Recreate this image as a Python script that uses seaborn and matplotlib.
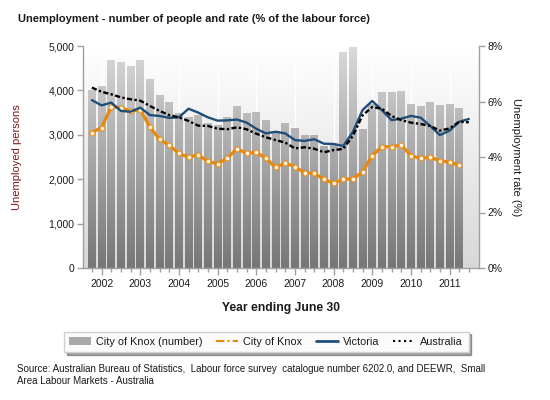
import numpy as np
import pandas as pd
import matplotlib
matplotlib.use("Agg")
import matplotlib.pyplot as plt
import seaborn as sns
from matplotlib.lines import Line2D
from matplotlib.patches import Patch
from matplotlib.colors import LinearSegmentedColormap
from matplotlib.ticker import FuncFormatter, FixedLocator

sns.set_theme(style="ticks")
plt.rcParams['font.family'] = ['Liberation Sans', 'DejaVu Sans']

# ---------------- data ----------------
year_labels = ['2002', '2003', '2004', '2005', '2006', '2007', '2008', '2009', '2010', '2011']

knox_number = [4000, 4100, 4690, 4640, 4555, 4690, 4260, 3900, 3740, 3500,
               3390, 3450, 3265, 3220, 3400, 3650, 3500, 3515, 3335, 3075,
               3270, 3160, 3000, 3000, 2750, 2770, 4860, 4970, 3130, 3700,
               3955, 3955, 3995, 3700, 3655, 3745, 3680, 3700, 3610]

knox_rate = [4.88, 5.06, 5.81, 5.78, 5.65, 5.71, 5.08, 4.64, 4.42, 4.13,
             3.99, 4.08, 3.84, 3.76, 3.96, 4.30, 4.13, 4.17, 3.95, 3.63,
             3.78, 3.65, 3.43, 3.41, 3.20, 3.05, 3.20, 3.21, 3.46, 4.05,
             4.37, 4.37, 4.43, 4.05, 3.95, 3.99, 3.86, 3.82, 3.70]

victoria_rate = [6.05, 5.86, 5.96, 5.66, 5.63, 5.78, 5.51, 5.48, 5.41, 5.43,
                 5.74, 5.60, 5.43, 5.31, 5.32, 5.35, 5.24, 5.02, 4.85, 4.91,
                 4.85, 4.61, 4.58, 4.64, 4.48, 4.47, 4.40, 4.90, 5.69, 6.02,
                 5.69, 5.33, 5.38, 5.48, 5.42, 5.12, 4.79, 4.95, 5.27, 5.37]

australia_rate = [6.50, 6.35, 6.26, 6.15, 6.08, 6.03, 5.84, 5.66, 5.51, 5.43,
                  5.30, 5.13, 5.12, 5.02, 5.00, 5.07, 5.00, 4.84, 4.71, 4.61,
                  4.52, 4.31, 4.35, 4.30, 4.17, 4.25, 4.29, 4.76, 5.50, 5.80,
                  5.74, 5.48, 5.33, 5.24, 5.19, 5.12, 4.95, 5.03, 5.27, 5.25]

bars_df = pd.DataFrame({'q': np.arange(len(knox_number)), 'n': knox_number})
knox_df = pd.DataFrame({'q': np.arange(len(knox_rate)), 'r': knox_rate})
vic_df = pd.DataFrame({'q': np.arange(len(victoria_rate)), 'r': victoria_rate})
aus_df = pd.DataFrame({'q': np.arange(len(australia_rate)), 'r': australia_rate})

ORANGE = '#E8890C'
NAVY = '#1F4E79'
SPINE = '#a0a0a0'
TXT = '#1a1a1a'

fig = plt.figure(figsize=(5.5, 4), dpi=100)
fig.patch.set_facecolor('white')
ax = fig.add_axes([0.1504, 0.33, 0.7205, 0.555])

# background gradient
bg_cmap = LinearSegmentedColormap.from_list('bg', ['#ffffff', '#d8d8d8'])
grad = np.linspace(0, 1, 256).reshape(-1, 1)
ax.imshow(grad, cmap=bg_cmap, extent=[0, 1, 0, 1], transform=ax.transAxes,
          aspect='auto', zorder=0)

# bars
sns.barplot(data=bars_df, x='q', y='n', native_scale=True, color='#a0a0a0',
            width=0.8, ax=ax, zorder=2, linewidth=0)
bar_cmap = LinearSegmentedColormap.from_list('bar', ['#dadada', '#767676'])
for p in list(ax.patches):
    x0 = p.get_x()
    x1 = x0 + p.get_width()
    im = ax.imshow(grad, cmap=bar_cmap, extent=[x0, x1, 0, 5000],
                   aspect='auto', zorder=2.5)
    im.set_clip_path(p)

ax.set_xlim(-0.95, 40.05)
ax.set_ylim(0, 5000)

# white vertical gridlines at years
major_pos = [1 + 4 * k for k in range(len(year_labels))]
for xp in major_pos:
    ax.axvline(xp, color='white', lw=1.0, zorder=1)

ax.xaxis.set_major_locator(FixedLocator(major_pos))
ax.set_xticklabels(year_labels)
ax.xaxis.set_minor_locator(FixedLocator(list(range(0, 40))))
ax.tick_params(axis='x', which='major', length=5, color=SPINE, width=1,
               labelsize=7.5, labelcolor=TXT, pad=3)
ax.tick_params(axis='x', which='minor', length=3, color=SPINE, width=1)
ax.set_yticks([0, 1000, 2000, 3000, 4000, 5000])
ax.yaxis.set_major_formatter(FuncFormatter(lambda v, _: f"{int(v):,}"))
ax.tick_params(axis='y', length=4, color=SPINE, width=1, labelsize=7.5,
               labelcolor=TXT, pad=2)
for s in ['top', 'right']:
    ax.spines[s].set_visible(False)
for s in ['left', 'bottom']:
    ax.spines[s].set_color(SPINE)
    ax.spines[s].set_linewidth(1)
ax.set_xlabel('Year ending June 30', fontsize=8.7, fontweight='bold', color=TXT)
ax.xaxis.set_label_coords(0.5, -0.152)
ax.set_ylabel('Unemployed persons', fontsize=8, color='#7a1a1a')
ax.yaxis.set_label_coords(-0.153, 0.5)

# twin axis for rates
ax2 = ax.twinx()
sns.lineplot(data=knox_df, x='q', y='r', ax=ax2, color=ORANGE, lw=2.3,
             marker='o', markersize=3.6, markerfacecolor='#fff3e0',
             markeredgecolor=ORANGE, markeredgewidth=0.7, zorder=3)
sns.lineplot(data=vic_df, x='q', y='r', ax=ax2, color=NAVY, lw=1.7, zorder=4)
sns.lineplot(data=aus_df, x='q', y='r', ax=ax2, color='black', lw=1.7,
             zorder=5, linestyle=(0, (2.2, 1.0, 1.0, 1.0)))
ax2.set_ylim(0, 8)
ax2.set_xlim(-0.95, 40.05)
ax2.set_yticks([0, 2, 4, 6, 8])
ax2.yaxis.set_major_formatter(FuncFormatter(lambda v, _: f"{int(v)}%"))
ax2.tick_params(axis='y', length=4, color=SPINE, width=1, labelsize=7.5,
                labelcolor=TXT, pad=2)
for s in ['top', 'left', 'bottom']:
    ax2.spines[s].set_visible(False)
ax2.spines['right'].set_color(SPINE)
ax2.spines['right'].set_linewidth(1)
ax2.set_xlabel('')
ax2.set_ylabel('Unemployment rate (%)', fontsize=8, color=TXT, rotation=270)
ax2.yaxis.set_label_coords(1.105, 0.5)

# title
fig.text(18 / 550, 1 - 19 / 400,
         'Unemployment - number of people and rate (% of the labour force)',
         fontsize=8, fontweight='bold', color=TXT, va='center', ha='left')

# legend
handles = [Patch(facecolor='#a8a8a8', edgecolor='none'),
           Line2D([], [], color=ORANGE, lw=1.5, linestyle=(0, (4, 1.5, 1, 1.5))),
           Line2D([], [], color=NAVY, lw=2.0),
           Line2D([], [], color='black', lw=1.5, linestyle=':')]
labels = ['City of Knox (number)', 'City of Knox', 'Victoria', 'Australia']
leg = fig.legend(handles, labels, loc='center', bbox_to_anchor=(0.484, 0.145),
                 ncol=4, frameon=True, fancybox=False, shadow=True,
                 edgecolor='#d0d0d0', fontsize=7.8, handlelength=2.0,
                 columnspacing=1.25, handletextpad=0.5, borderpad=0.5)
leg.get_frame().set_facecolor('#fbfbfb')
for t in leg.get_texts():
    t.set_color(TXT)

# source
fig.text(17 / 550, 1 - 364 / 400,
         'Source: Australian Bureau of Statistics,  Labour force survey  catalogue number 6202.0, and DEEWR,  Small\n'
         'Area Labour Markets - Australia',
         fontsize=7, color=TXT, va='top', ha='left', linespacing=1.2)

fig.savefig('out.png', dpi=100)
